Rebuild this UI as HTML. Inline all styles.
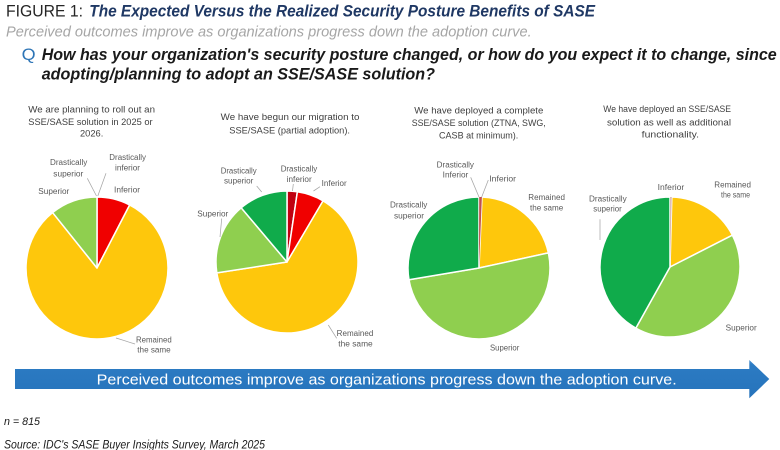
<!DOCTYPE html>
<html>
<head>
<meta charset="utf-8">
<style>
  html, body { margin: 0; padding: 0; background: #ffffff; }
  body { width: 780px; height: 450px; overflow: hidden; }
  svg { display: block; }
  text { font-family: "Liberation Sans", sans-serif; }
  .pt { font-size: 9px; fill: #404040; }
  .lb { font-size: 8px; fill: #595959; }
  .ld { stroke: #a6a6a6; stroke-width: 0.75; fill: none; }
  .sl { stroke: #ffffff; stroke-width: 1.5; stroke-linejoin: round; }
</style>
</head>
<body>
<svg width="780" height="450" viewBox="0 0 780 450" xmlns="http://www.w3.org/2000/svg">
  <rect x="0" y="0" width="780" height="450" fill="#ffffff"/>

  <!-- Header -->
  <text x="6" y="16.7" font-size="17" fill="#262626" textLength="77" lengthAdjust="spacingAndGlyphs">FIGURE 1:</text>
  <text x="89.3" y="16.7" font-size="17" font-weight="bold" font-style="italic" fill="#1f3864" textLength="505.7" lengthAdjust="spacingAndGlyphs">The Expected Versus the Realized Security Posture Benefits of SASE</text>
  <text x="6" y="36.7" font-size="14.5" font-style="italic" fill="#a6a6a6" textLength="525.7" lengthAdjust="spacingAndGlyphs">Perceived outcomes improve as organizations progress down the adoption curve.</text>
  <text x="21.7" y="60" font-size="17" fill="#2e75b6" textLength="14" lengthAdjust="spacingAndGlyphs">Q</text>
  <text x="41.7" y="60" font-size="16.5" font-weight="bold" font-style="italic" fill="#1a1a1a" textLength="735" lengthAdjust="spacingAndGlyphs">How has your organization's security posture changed, or how do you expect it to change, since</text>
  <text x="41.7" y="79.5" font-size="16.5" font-weight="bold" font-style="italic" fill="#1a1a1a" textLength="393.3" lengthAdjust="spacingAndGlyphs">adopting/planning to adopt an SSE/SASE solution?</text>

  <!-- Pie titles -->
  <text class="pt" x="28.3" y="112.3" textLength="126.7" lengthAdjust="spacingAndGlyphs">We are planning to roll out an</text>
  <text class="pt" x="28.3" y="125" textLength="124.3" lengthAdjust="spacingAndGlyphs">SSE/SASE solution in 2025 or</text>
  <text class="pt" x="80" y="136.7" textLength="23.3" lengthAdjust="spacingAndGlyphs">2026.</text>

  <text class="pt" x="220.7" y="120" textLength="138.7" lengthAdjust="spacingAndGlyphs">We have begun our migration to</text>
  <text class="pt" x="229.3" y="133.3" textLength="120.7" lengthAdjust="spacingAndGlyphs">SSE/SASE (partial adoption).</text>

  <text class="pt" x="414.3" y="113.3" textLength="129" lengthAdjust="spacingAndGlyphs">We have deployed a complete</text>
  <text class="pt" x="411.7" y="126" textLength="134" lengthAdjust="spacingAndGlyphs">SSE/SASE solution (ZTNA, SWG,</text>
  <text class="pt" x="439" y="138.7" textLength="79.3" lengthAdjust="spacingAndGlyphs">CASB at minimum).</text>

  <text class="pt" x="603.3" y="112" textLength="127.7" lengthAdjust="spacingAndGlyphs">We have deployed an SSE/SASE</text>
  <text class="pt" x="607" y="125.3" textLength="124" lengthAdjust="spacingAndGlyphs">solution as well as additional</text>
  <text class="pt" x="641.7" y="137.7" textLength="57.3" lengthAdjust="spacingAndGlyphs">functionality.</text>

  <!-- Pie 1 -->
  <path class="sl" fill="#f00000" d="M97,268 L97,197 A71,71 0 0 1 129.67,204.97 Z"/>
  <path class="sl" fill="#fec70c" d="M97,268 L129.67,204.97 A71,71 0 1 1 52.61,212.59 Z"/>
  <path class="sl" fill="#8fcf4f" d="M97,268 L52.61,212.59 A71,71 0 0 1 97,197 Z"/>
  <line class="ld" x1="87.3" y1="178.3" x2="96.5" y2="196"/>
  <line class="ld" x1="106" y1="173.3" x2="97.8" y2="196"/>
  <line class="ld" x1="135" y1="344" x2="116" y2="338"/>
  <text class="lb" x="50" y="165" textLength="37.3" lengthAdjust="spacingAndGlyphs">Drastically</text>
  <text class="lb" x="53.3" y="176.7" textLength="30" lengthAdjust="spacingAndGlyphs">superior</text>
  <text class="lb" x="109.3" y="160" textLength="36.7" lengthAdjust="spacingAndGlyphs">Drastically</text>
  <text class="lb" x="115" y="170.7" textLength="25" lengthAdjust="spacingAndGlyphs">inferior</text>
  <text class="lb" x="38.3" y="194" textLength="31" lengthAdjust="spacingAndGlyphs">Superior</text>
  <text class="lb" x="114" y="192.7" textLength="26" lengthAdjust="spacingAndGlyphs">Inferior</text>
  <text class="lb" x="136" y="342.3" textLength="35.7" lengthAdjust="spacingAndGlyphs">Remained</text>
  <text class="lb" x="137.3" y="352.7" textLength="33.4" lengthAdjust="spacingAndGlyphs">the same</text>

  <!-- Pie 2 -->
  <path class="sl" fill="#c00010" d="M287,262 L287,191 A71,71 0 0 1 297.37,191.76 Z"/>
  <path class="sl" fill="#f00000" d="M287,262 L297.37,191.76 A71,71 0 0 1 323.03,200.83 Z"/>
  <path class="sl" fill="#fec70c" d="M287,262 L323.03,200.83 A71,71 0 1 1 216.84,272.86 Z"/>
  <path class="sl" fill="#8fcf4f" d="M287,262 L216.84,272.86 A71,71 0 0 1 241.17,207.77 Z"/>
  <path class="sl" fill="#10ab4b" d="M287,262 L241.17,207.77 A71,71 0 0 1 287,191 Z"/>
  <line class="ld" x1="256.7" y1="186" x2="261.7" y2="192"/>
  <line class="ld" x1="293.3" y1="184" x2="292.5" y2="191"/>
  <line class="ld" x1="320" y1="186.7" x2="313.5" y2="191"/>
  <line class="ld" x1="221.7" y1="218.5" x2="220" y2="237"/>
  <line class="ld" x1="336.7" y1="338.3" x2="328.3" y2="325"/>
  <text class="lb" x="220.7" y="173.3" textLength="36" lengthAdjust="spacingAndGlyphs">Drastically</text>
  <text class="lb" x="224" y="183.3" textLength="29.3" lengthAdjust="spacingAndGlyphs">superior</text>
  <text class="lb" x="280.7" y="171.7" textLength="36.6" lengthAdjust="spacingAndGlyphs">Drastically</text>
  <text class="lb" x="286.7" y="182" textLength="25" lengthAdjust="spacingAndGlyphs">inferior</text>
  <text class="lb" x="321.7" y="186" textLength="25" lengthAdjust="spacingAndGlyphs">Inferior</text>
  <text class="lb" x="197.3" y="216.7" textLength="31" lengthAdjust="spacingAndGlyphs">Superior</text>
  <text class="lb" x="336.7" y="336" textLength="36.6" lengthAdjust="spacingAndGlyphs">Remained</text>
  <text class="lb" x="338.3" y="346.7" textLength="34.4" lengthAdjust="spacingAndGlyphs">the same</text>

  <!-- Pie 3 -->
  <path class="sl" fill="#fec70c" d="M479,268 L481.97,197.06 A71,71 0 0 1 548.37,252.88 Z"/>
  <path class="sl" fill="#8fcf4f" d="M479,268 L548.37,252.88 A71,71 0 1 1 408.97,279.72 Z"/>
  <path class="sl" fill="#10ab4b" d="M479,268 L408.97,279.72 A71,71 0 0 1 479,197 Z"/>
  <path fill="#c0504d" d="M479,268 L479.2,197 A71,71 0 0 1 481.9,197.05 Z"/>
  <line class="ld" x1="470.7" y1="177.3" x2="479" y2="197"/>
  <line class="ld" x1="488.3" y1="180" x2="481.7" y2="197"/>
  <text class="lb" x="436.7" y="167.3" textLength="37.3" lengthAdjust="spacingAndGlyphs">Drastically</text>
  <text class="lb" x="442.7" y="177.3" textLength="25.6" lengthAdjust="spacingAndGlyphs">Inferior</text>
  <text class="lb" x="489.3" y="181.7" textLength="26.7" lengthAdjust="spacingAndGlyphs">Inferior</text>
  <text class="lb" x="528.3" y="200" textLength="36.7" lengthAdjust="spacingAndGlyphs">Remained</text>
  <text class="lb" x="530" y="210.7" textLength="33.3" lengthAdjust="spacingAndGlyphs">the same</text>
  <text class="lb" x="390" y="207.3" textLength="37.3" lengthAdjust="spacingAndGlyphs">Drastically</text>
  <text class="lb" x="394" y="218.3" textLength="30" lengthAdjust="spacingAndGlyphs">superior</text>
  <text class="lb" x="490" y="350.7" textLength="29.3" lengthAdjust="spacingAndGlyphs">Superior</text>

  <!-- Pie 4 -->
  <path class="sl" fill="#fec70c" d="M670,267 L671.83,197.02 A70,70 0 0 1 732.37,235.22 Z"/>
  <path class="sl" fill="#8fcf4f" d="M670,267 L732.37,235.22 A70,70 0 0 1 635.85,328.10 Z"/>
  <path class="sl" fill="#10ab4b" d="M670,267 L635.85,328.10 A70,70 0 0 1 670,197 Z"/>
  <path fill="#d8b0a8" d="M670,267 L670.2,197 A70,70 0 0 1 671.7,197.02 Z"/>
  <line class="ld" x1="600" y1="219.3" x2="600" y2="240"/>
  <text class="lb" x="657.7" y="190" textLength="26.6" lengthAdjust="spacingAndGlyphs">Inferior</text>
  <text class="lb" x="714.3" y="187.3" textLength="36.7" lengthAdjust="spacingAndGlyphs">Remained</text>
  <text class="lb" x="721" y="197.3" textLength="29" lengthAdjust="spacingAndGlyphs">the same</text>
  <text class="lb" x="589" y="201.7" textLength="37.7" lengthAdjust="spacingAndGlyphs">Drastically</text>
  <text class="lb" x="593.3" y="211.7" textLength="28.4" lengthAdjust="spacingAndGlyphs">superior</text>
  <text class="lb" x="725.7" y="330.7" textLength="31" lengthAdjust="spacingAndGlyphs">Superior</text>

  <!-- Arrow -->
  <defs>
    <linearGradient id="ag" x1="0" y1="0" x2="0" y2="1">
      <stop offset="0" stop-color="#4a92d2"/>
      <stop offset="0.12" stop-color="#2c7bc3"/>
      <stop offset="1" stop-color="#2673bb"/>
    </linearGradient>
  </defs>
  <path fill="url(#ag)" d="M15,369 L749.3,369 L749.3,360 L769.3,379 L749.3,398.3 L749.3,389 L15,389 Z"/>
  <text x="96.7" y="384.3" font-size="15" fill="#ffffff" textLength="580" lengthAdjust="spacingAndGlyphs">Perceived outcomes improve as organizations progress down the adoption curve.</text>

  <!-- Footer -->
  <text x="4" y="425" font-size="11" font-style="italic" fill="#1a1a1a" textLength="36" lengthAdjust="spacingAndGlyphs">n = 815</text>
  <text x="4" y="448.3" font-size="11.5" font-style="italic" fill="#1a1a1a" textLength="261" lengthAdjust="spacingAndGlyphs">Source: IDC's SASE Buyer Insights Survey, March 2025</text>
</svg>
</body>
</html>
